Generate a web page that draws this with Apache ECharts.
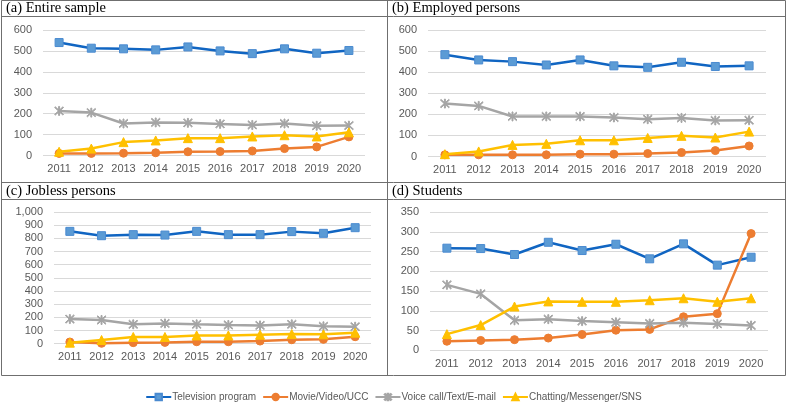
<!DOCTYPE html>
<html>
<head>
<meta charset="utf-8">
<script src="https://cdn.jsdelivr.net/npm/echarts@6/dist/echarts.min.js"></script>
<style>html,body{margin:0;padding:0;background:#fff;}#c{width:787px;height:408px;}</style>
</head>
<body>
<div id="c"></div>
<script>
const years = ['2011','2012','2013','2014','2015','2016','2017','2018','2019','2020'];
const seriesNames = ['Television program','Movie/Video/UCC','Voice call/Text/E-mail','Chatting/Messenger/SNS'];
const panelTitles = ['(a) Entire sample','(b) Employed persons','(c) Jobless persons','(d) Students'];

// (a) Entire sample
const tvA    = [540, 513, 510, 505, 519, 500, 487, 510, 489, 502];
const movieA = [10, 10, 11, 13, 18, 19, 22, 33, 41, 89];
const voiceA = [213, 205, 153, 158, 156, 151, 146, 153, 142, 143];
const chatA  = [18, 33, 64, 72, 83, 83, 91, 97, 91, 111];
// (b) Employed persons
const tvB    = [483, 458, 450, 434, 458, 430, 423, 447, 427, 430];
const movieB = [8, 8, 8, 8, 11, 11, 14, 19, 28, 50];
const voiceB = [251, 240, 190, 190, 190, 185, 177, 183, 171, 172];
const chatB  = [11, 24, 55, 60, 77, 77, 88, 98, 90, 118];
// (c) Jobless persons
const tvC    = [853, 820, 828, 825, 853, 828, 828, 851, 838, 881];
const movieC = [13, 3, 8, 10, 15, 15, 20, 30, 33, 53];
const voiceC = [187, 180, 147, 154, 147, 142, 139, 147, 132, 129];
const chatC  = [8, 28, 51, 51, 63, 63, 68, 73, 71, 84];
// (d) Students
const tvD    = [259, 258, 243, 274, 253, 269, 232, 270, 216, 236];
const movieD = [23, 25, 27, 31, 40, 51, 53, 85, 93, 296];
const voiceD = [166, 143, 76, 79, 74, 71, 68, 70, 67, 63];
const chatD  = [41, 64, 111, 124, 123, 123, 127, 132, 123, 132];

const yMax = [600, 600, 1000, 350];
const yStep = [100, 100, 100, 50];

const panels = [
  [tvA, movieA, voiceA, chatA],
  [tvB, movieB, voiceB, chatB],
  [tvC, movieC, voiceC, chatC],
  [tvD, movieD, voiceD, chatD]
];

const grids = [
  {left: 43, top: 30, width: 322, height: 125.5},
  {left: 428, top: 30, width: 338, height: 126.5},
  {left: 54, top: 212, width: 317, height: 131.7},
  {left: 430, top: 212.3, width: 338, height: 138}
];

const starPath = 'path://M9,0 L11,0 L11,20 L9,20 Z M2.2,0.8 L0.8,2.2 L17.8,19.2 L19.2,17.8 Z M17.8,0.8 L19.2,2.2 L2.2,19.2 L0.8,17.8 Z';

const styles = [
  {symbol: 'rect', symbolSize: 8, line: '#1065c2', item: '#5b9bd5', border: '#4a8ad0'},
  {symbol: 'circle', symbolSize: 8, line: '#ed7d31', item: '#ed7d31', border: '#ed7d31'},
  {symbol: starPath, symbolSize: 9, line: '#a5a5a5', item: '#a5a5a5', border: '#a5a5a5'},
  {symbol: 'triangle', symbolSize: 9, line: '#ffc000', item: '#ffc000', border: '#ffc000'}
];

const labelFont = {color: '#595959', fontSize: 11, fontFamily: 'Liberation Sans, Arial, sans-serif'};

const xAxes = grids.map((g, i) => ({
  type: 'category', gridIndex: i, data: years, boundaryGap: true,
  axisLine: {show: false}, axisTick: {show: false},
  axisLabel: Object.assign({margin: 8, interval: 0}, labelFont)
}));
const yAxes = grids.map((g, i) => ({
  type: 'value', gridIndex: i, min: 0, max: yMax[i], interval: yStep[i],
  axisLine: {show: false}, axisTick: {show: false},
  splitLine: {lineStyle: {color: '#d9d9d9', width: 1}},
  axisLabel: Object.assign({margin: 11, formatter: v => v.toLocaleString('en-US')}, labelFont)
}));

const series = [];
panels.forEach((p, i) => {
  p.forEach((vals, k) => {
    const s = styles[k];
    series.push({
      name: seriesNames[k], type: 'line', xAxisIndex: i, yAxisIndex: i,
      data: vals, symbol: s.symbol, symbolSize: s.symbolSize, showAllSymbol: true,
      lineStyle: {color: s.line, width: 2.5},
      itemStyle: {color: s.item, borderColor: s.border, borderWidth: 1},
      emphasis: {disabled: true}, animation: false, z: 2 + k
    });
  });
});

const frameColor = '#6f6f6f';
const graphic = [
  {type: 'rect', shape: {x: 1.5, y: 0.5, width: 784, height: 375}, style: {fill: 'none', stroke: frameColor, lineWidth: 1}},
  {type: 'line', shape: {x1: 1.5, y1: 16.5, x2: 785.5, y2: 16.5}, style: {stroke: frameColor, lineWidth: 1}},
  {type: 'line', shape: {x1: 1.5, y1: 182.5, x2: 785.5, y2: 182.5}, style: {stroke: frameColor, lineWidth: 1}},
  {type: 'line', shape: {x1: 1.5, y1: 199.5, x2: 785.5, y2: 199.5}, style: {stroke: frameColor, lineWidth: 1}},
  {type: 'line', shape: {x1: 387.5, y1: 0.5, x2: 387.5, y2: 375.5}, style: {stroke: frameColor, lineWidth: 1}}
];
const titlePos = [[6, 8.5], [392, 8.5], [6, 191], [392, 191]];
panelTitles.forEach((t, i) => {
  graphic.push({type: 'text', x: titlePos[i][0], y: titlePos[i][1],
    style: {text: t, fill: '#000', font: '14.5px "Liberation Serif", "Times New Roman", serif', verticalAlign: 'middle', align: 'left'}});
});

const chart = echarts.init(document.getElementById('c'), null, {renderer: 'canvas'});
chart.setOption({
  animation: false,
  backgroundColor: '#fff',
  grid: grids,
  xAxis: xAxes,
  yAxis: yAxes,
  series: series,
  graphic: graphic,
  legend: {
    data: seriesNames, top: 387, left: 'center', itemWidth: 25, itemHeight: 8, itemGap: 6,
    textStyle: {color: '#595959', fontSize: 10, fontFamily: 'Liberation Sans, Arial, sans-serif', padding: [0, 0, 0, -4]}
  }
});
</script>
</body>
</html>
